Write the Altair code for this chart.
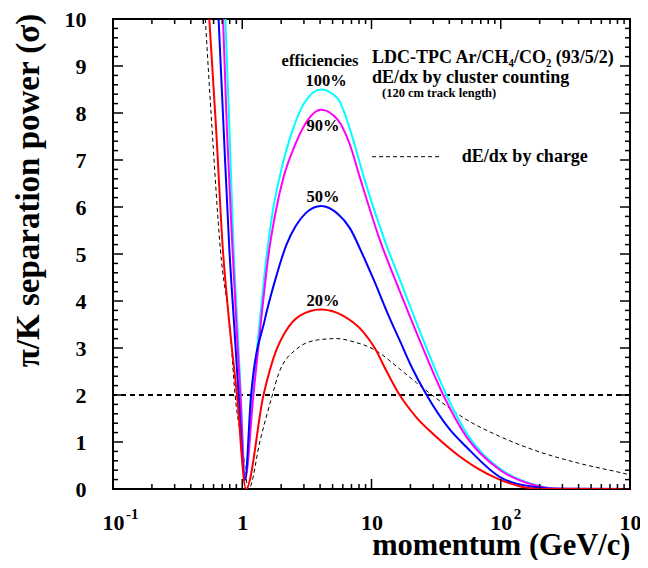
import altair as alt
import pandas as pd

W, H = 517, 470
FONT = "Liberation Serif"

# ---------------- data ----------------
# dE/dx by cluster counting, efficiency 100 %
cyan_x = [0.74, 0.795, 0.857, 0.925, 0.975, 1.05, 1.2, 1.38, 1.55, 1.72, 1.94, 2.5, 3.0, 4.07,
          5.5, 7.0, 8.75, 12.6, 16.6, 23.7, 38, 54, 98, 177, 260, 1000]
cyan_y = [10, 7.69, 5.12, 3.3, 2.0, 0.25, 2.0, 3.7, 5.0, 5.9, 6.62, 7.7, 8.2, 8.5,
          8.3, 7.55, 6.62, 5.3, 4.45, 3.35, 2.0, 1.2, 0.44, 0.1, 0.01, 0.0]
# efficiency 90 %
mag_x = [0.71, 0.76, 0.84, 0.905, 0.968, 1.05, 1.22, 1.4, 1.6, 1.8, 2.08, 2.57, 3.0, 4.07,
         5.5, 6.8, 8.15, 11.6, 16.6, 23.7, 35.9, 54, 98, 177, 260, 1000]
mag_y = [10, 7.69, 5.12, 3.4, 2.0, 0.2, 2.0, 3.6, 5.0, 5.85, 6.62, 7.33, 7.72, 8.07,
         7.85, 7.33, 6.62, 5.3, 4.2, 3.15, 2.0, 1.12, 0.41, 0.09, 0.01, 0.0]
# efficiency 50 %
blue_x = [0.656, 0.717, 0.794, 0.87, 0.937, 1.05, 1.17, 1.5, 1.8, 2.2, 2.6, 3.1, 4.07, 5.5,
          6.8, 8.5, 10.3, 13.9, 16.6, 20, 26.7, 40, 54, 98, 177, 300, 1000]
blue_y = [10, 7.69, 5.12, 3.4, 2.0, 0.19, 2.0, 3.62, 4.45, 5.2, 5.6, 5.87, 6.02, 5.85,
          5.55, 5.0, 4.48, 3.62, 3.15, 2.65, 2.0, 1.28, 0.9, 0.26, 0.05, 0.0, 0.0]
# efficiency 20 %
red_x = [0.556, 0.627, 0.707, 0.784, 0.91, 1.07, 1.46, 1.85, 2.15, 2.8, 4.05, 6.0, 8.65,
         10.6, 13, 16.1, 19, 22.3, 30, 42, 65, 98, 140, 200, 1000]
red_y = [10, 7.69, 5.12, 3.69, 2.0, 0.0, 2.0, 2.98, 3.34, 3.69, 3.82, 3.69, 3.34,
         3.0, 2.52, 2.05, 1.76, 1.52, 1.17, 0.82, 0.45, 0.2, 0.06, 0.0, 0.0]
# dE/dx by charge
chg_x = [0.518, 0.583, 0.676, 0.808, 0.88, 1.0, 1.12, 1.38, 1.71, 1.91, 2.64, 3.8, 5.39,
         7.5, 10.3, 16.6, 22.3, 30, 54, 98, 178, 400, 935, 1000]
chg_y = [10, 7.69, 5.12, 3.34, 2.0, 0.95, 0.0, 1.05, 2.0, 2.45, 2.98, 3.17, 3.2,
         3.12, 2.98, 2.55, 2.26, 1.98, 1.48, 1.12, 0.835, 0.55, 0.32, 0.3]

threshold = [2.0]

x_label_vals = [0.1, 1, 10, 100, 1000]
x_sup_vals = [0.1, 100, 1000]
x_sup_text = ["-1", "2", "3"]
y_label_vals = list(range(0, 11))

ann_x = [4.0, 4.45, 4.22, 4.22, 4.22]
ann_y = [9.1, 8.68, 7.73, 6.21, 4.0]
ann_t = ["efficiencies", "100%", "90%", "50%", "20%"]

title_x = [10.1, 10.1]
title_y = [9.16, 8.74]
title_t = ["LDC-TPC Ar/CH\u2084/CO\u2082 (93/5/2)", "dE/dx by cluster counting"]

note_x = [12.05]
note_y = [8.42]
note_t = ["(120 cm track length)"]

leg_x, leg_x2, leg_y = [10.1], [35.0], [7.07]
leg_tx, leg_ty, leg_t = [50.0], [7.07], ["dE/dx by charge"]

# ---------------- chart ----------------
x_scale = alt.Scale(type="log", domain=[0.1, 1000])
y_scale = alt.Scale(domain=[0, 10])


def df(xs, ys):
    return pd.DataFrame({"p": xs, "s": ys, "i": list(range(len(xs)))})


x_axis = alt.Axis(values=x_label_vals, labelExpr="datum.value == 1 ? '1' : '10'",
                  ticks=False, domain=False, grid=False, labelFlush=False,
                  labelFont=FONT, labelFontWeight="bold", labelFontSize=22,
                  labelPadding=23, labelColor="black",
                  title="momentum (GeV/c)", titleFont=FONT, titleFontSize=30.5,
                  titleFontWeight="bold", titleX=W, titleY=65, titleAlign="right",
                  titleBaseline="alphabetic", titleColor="black")
y_axis = alt.Axis(values=y_label_vals, ticks=False, domain=False, grid=False,
                  labelFont=FONT, labelFontWeight="bold", labelFontSize=22,
                  labelPadding=27, labelColor="black",
                  title="\u03c0/K separation power (\u03c3)", titleFont=FONT,
                  titleFontSize=33, titleFontWeight="bold", titleX=-75, titleY=171,
                  titleAngle=270, titleAlign="center", titleBaseline="alphabetic",
                  titleColor="black")


def X(field="p:Q"):
    return alt.X(field, scale=x_scale, axis=x_axis)


def Y(field="s:Q"):
    return alt.Y(field, scale=y_scale, axis=y_axis)


layers = []

# threshold line
layers.append(alt.Chart(pd.DataFrame({"s": threshold})).mark_rule(
    color="black", strokeWidth=2, strokeDash=[5, 4]).encode(y=Y()))

# charge curve
layers.append(alt.Chart(df(chg_x, chg_y)).mark_line(
    color="black", strokeWidth=1, strokeDash=[4, 3], clip=True,
    interpolate="monotone").encode(x=X(), y=Y(), order="i:Q"))

for xs, ys, col in [(cyan_x, cyan_y, "#00FFFF"), (mag_x, mag_y, "#FF00FF"),
                    (blue_x, blue_y, "#0000FF"), (red_x, red_y, "#FF0000")]:
    layers.append(alt.Chart(df(xs, ys)).mark_line(
        color=col, strokeWidth=2, clip=True, interpolate="monotone").encode(
        x=X(), y=Y(), order="i:Q"))

# inward ticks on all four sides
y_major = [float(v) for v in range(0, 11)]
y_minor = [round(v * 0.2, 1) for v in range(0, 51) if v % 5 != 0]
x_major = [0.1, 1.0, 10.0, 100.0, 1000.0]
x_minor = [k * 10.0 ** e for e in range(-1, 3) for k in range(2, 10)]

for vals, ln in [(y_major, 10), (y_minor, 5)]:
    d = pd.DataFrame({"s": vals})
    layers.append(alt.Chart(d).mark_rule(color="black", strokeWidth=1.5).encode(
        y=Y(), x=alt.value(0), x2=alt.value(ln)))
    layers.append(alt.Chart(d).mark_rule(color="black", strokeWidth=1.5).encode(
        y=Y(), x=alt.value(W), x2=alt.value(W - ln)))
for vals, ln in [(x_major, 10), (x_minor, 5)]:
    d = pd.DataFrame({"p": vals})
    layers.append(alt.Chart(d).mark_rule(color="black", strokeWidth=1.5).encode(
        x=X(), y=alt.value(H), y2=alt.value(H - ln)))
    layers.append(alt.Chart(d).mark_rule(color="black", strokeWidth=1.5).encode(
        x=X(), y=alt.value(0), y2=alt.value(ln)))

# superscripts of the x labels
layers.append(alt.Chart(pd.DataFrame({"p": x_sup_vals, "t": x_sup_text})).mark_text(
    align="left", baseline="top", dx=13, font=FONT, fontWeight="bold", fontSize=15,
    color="black").encode(x=X(), y=alt.value(H + 18), text="t:N"))

# annotations
layers.append(alt.Chart(pd.DataFrame({"p": ann_x, "s": ann_y, "t": ann_t})).mark_text(
    align="center", baseline="middle", font=FONT, fontWeight="bold", fontSize=16.5,
    color="black").encode(x=X(), y=Y(), text="t:N"))
layers.append(alt.Chart(pd.DataFrame({"p": title_x, "s": title_y, "t": title_t})).mark_text(
    align="left", baseline="middle", font=FONT, fontWeight="bold", fontSize=18,
    color="black").encode(x=X(), y=Y(), text="t:N"))
layers.append(alt.Chart(pd.DataFrame({"p": note_x, "s": note_y, "t": note_t})).mark_text(
    align="left", baseline="middle", font=FONT, fontWeight="bold", fontSize=12.5,
    color="black").encode(x=X(), y=Y(), text="t:N"))
layers.append(alt.Chart(pd.DataFrame({"p": leg_x, "p2": leg_x2, "s": leg_y})).mark_rule(
    color="black", strokeWidth=1, strokeDash=[4, 3]).encode(
    x=X(), x2="p2:Q", y=Y()))
layers.append(alt.Chart(pd.DataFrame({"p": leg_tx, "s": leg_ty, "t": leg_t})).mark_text(
    align="left", baseline="middle", font=FONT, fontWeight="bold", fontSize=18,
    color="black").encode(x=X(), y=Y(), text="t:N"))

chart = alt.layer(*layers).properties(
    width=W, height=H,
    autosize=alt.AutoSizeParams(type="none"),
    padding={"left": 105, "top": 11, "right": 10, "bottom": 71},
    background="white",
).configure_view(stroke="black", strokeWidth=2)

chart.save("out.html", embed_options={"renderer": "svg", "actions": False})
